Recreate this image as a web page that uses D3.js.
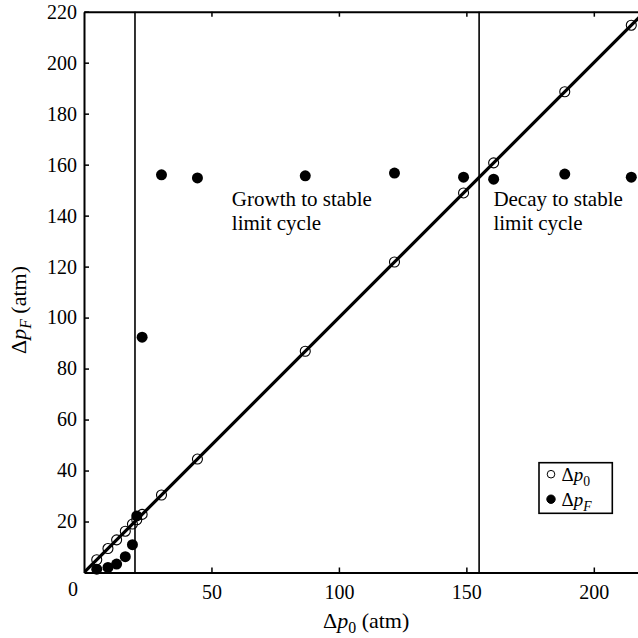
<!DOCTYPE html>
<html>
<head>
<meta charset="utf-8">
<script src="https://cdn.jsdelivr.net/npm/d3@7/dist/d3.min.js"></script>
<style>
  body { margin: 0; background: #fff; }
</style>
</head>
<body>
<svg id="chart" width="638" height="638"></svg>
<script>
// data
const dp0 = [5, 9.4, 12.8, 16.2, 19, 20.7, 22.8, 30.4, 44.5, 86.8, 121.8, 148.9, 160.7, 188.6, 214.7]
const dpF = [1.3, 2.0, 3.3, 6.2, 10.9, 22.2, 92.3, 156.0, 154.8, 155.6, 156.7, 155.1, 154.3, 156.3, 155.1]
const boundaries = [20, 155]
const xTicks = [50, 100, 150, 200]
const yTicks = [20, 40, 60, 80, 100, 120, 140, 160, 180, 200, 220]
const notes = [
  { x: 58, y: 143.8, lines: ['Growth to stable', 'limit cycle'] },
  { x: 160.6, y: 143.8, lines: ['Decay to stable', 'limit cycle'] }
]

const serif = '"Liberation Serif", "Times New Roman", Times, serif'
const margin = { top: 11.7, left: 84 }
const size = 560.8

const svg = d3.select('#chart').style('font-family', serif)
const g = svg.append('g').attr('transform', `translate(${margin.left},${margin.top})`)

const x = d3.scaleLinear().domain([0, 220]).range([0, size])
const y = d3.scaleLinear().domain([0, 220]).range([size, 0])

g.append('clipPath').attr('id', 'clip')
  .append('rect').attr('width', size).attr('height', size)

// axes, ticks pointing inwards
const styleAxis = sel => sel
  .attr('font-family', null)
  .style('font-family', serif)
  .call(a => a.select('.domain').attr('stroke-width', 2))
  .call(a => a.selectAll('.tick line').attr('stroke-width', 1.5))
  .call(a => a.selectAll('.tick text').attr('font-size', 20).attr('fill', '#000'))

g.append('g').attr('transform', `translate(0,${size})`)
  .call(d3.axisBottom(x).tickValues(xTicks).tickSizeInner(-5).tickSizeOuter(0).tickPadding(12))
  .call(styleAxis)
g.append('g')
  .call(d3.axisTop(x).tickValues(xTicks).tickSizeInner(-5).tickSizeOuter(0).tickFormat(''))
  .call(styleAxis)
g.append('g')
  .call(d3.axisLeft(y).tickValues(yTicks).tickSizeInner(-5).tickSizeOuter(0).tickPadding(7))
  .call(styleAxis)
g.append('g').attr('transform', `translate(${size},0)`)
  .call(d3.axisRight(y).tickValues(yTicks).tickSizeInner(-5).tickSizeOuter(0).tickFormat(''))
  .call(styleAxis)

// shared corner zero
g.append('text').attr('x', x(0) - 11).attr('y', y(0) + 24)
  .attr('text-anchor', 'middle').attr('font-size', 20).text('0')

// vertical boundaries
g.append('g').selectAll('line').data(boundaries).join('line')
  .attr('x1', d => x(d)).attr('x2', d => x(d))
  .attr('y1', 0).attr('y2', size)
  .attr('stroke', '#000').attr('stroke-width', 1.6)

// y = x line
g.append('line')
  .attr('clip-path', 'url(#clip)')
  .attr('x1', x(0)).attr('y1', y(0)).attr('x2', x(220)).attr('y2', y(220))
  .attr('stroke', '#000').attr('stroke-width', 3.2)

// open circles: dp0
g.append('g').selectAll('circle').data(dp0).join('circle')
  .attr('cx', d => x(d)).attr('cy', d => y(d)).attr('r', 5)
  .attr('fill', 'none').attr('stroke', '#000').attr('stroke-width', 1.1)

// filled circles: dpF
g.append('g').selectAll('circle').data(dpF).join('circle')
  .attr('cx', (d, i) => x(dp0[i])).attr('cy', d => y(d)).attr('r', 5.5)
  .attr('fill', '#000')

// annotations
notes.forEach(n => {
  const t = g.append('text').attr('x', x(n.x)).attr('y', y(n.y)).attr('font-size', 21)
  n.lines.forEach((l, i) => t.append('tspan').attr('x', x(n.x)).attr('dy', i ? 24 : 0).text(l))
})

// axis labels
function deltaLabel(sel, sub, subItalic) {
  sel.append('tspan').text('Δ')
  sel.append('tspan').attr('font-style', 'italic').text('p')
  sel.append('tspan').attr('font-size', '0.72em').attr('dy', 5)
    .attr('font-style', subItalic ? 'italic' : 'normal').text(sub)
}

const xl = svg.append('text').attr('x', margin.left + x(110.7)).attr('y', 628)
  .attr('text-anchor', 'middle').attr('font-size', 22)
deltaLabel(xl, '0', false)
xl.append('tspan').attr('dy', -5).text(' (atm)')

const yl = svg.append('text')
  .attr('transform', `translate(26,310) rotate(-90)`)
  .attr('text-anchor', 'middle').attr('font-size', 22)
deltaLabel(yl, 'F', true)
yl.append('tspan').attr('dy', -5).text(' (atm)')

// legend
const lg = svg.append('g').attr('transform', 'translate(539,462.7)')
lg.append('rect').attr('width', 73.3).attr('height', 50.6)
  .attr('fill', '#fff').attr('stroke', '#000').attr('stroke-width', 1.6)
const items = [{ sub: '0', italic: false, filled: false }, { sub: 'F', italic: true, filled: true }]
items.forEach((it, i) => {
  const cy = 11.5 + i * 25
  lg.append('circle').attr('cx', 12).attr('cy', cy).attr('r', it.filled ? 4.2 : 3.8)
    .attr('fill', it.filled ? '#000' : 'none').attr('stroke', '#000').attr('stroke-width', 1)
  const t = lg.append('text').attr('x', 22.5).attr('y', cy + 7).attr('font-size', 19)
  deltaLabel(t, it.sub, it.italic)
})
</script>
</body>
</html>
